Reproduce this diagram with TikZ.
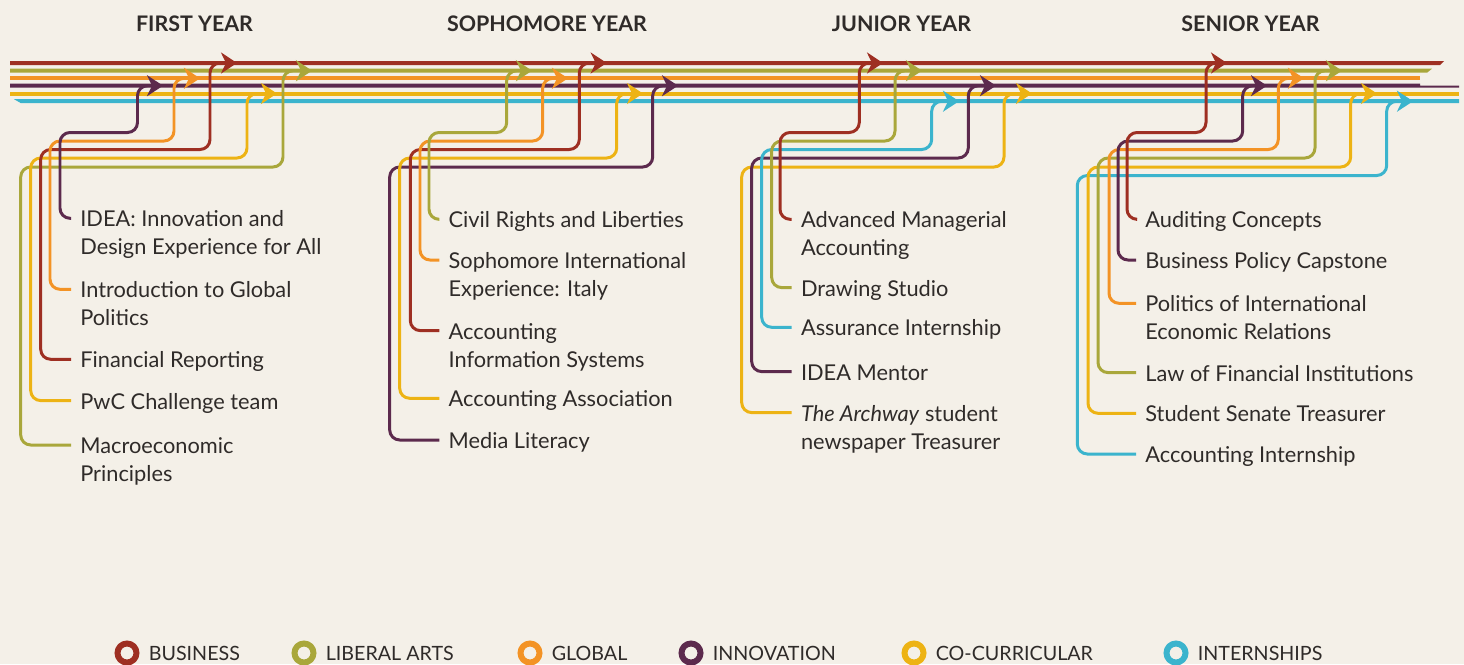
\documentclass[tikz,border=0pt]{standalone}
\usepackage{fontspec}
\setmainfont{Lato}
\usetikzlibrary{arrows.meta}
\usetikzlibrary{calc}
\usetikzlibrary{positioning}

\definecolor{paper}{HTML}{F4F0E8}
\definecolor{ink}{HTML}{2F2B29}
\definecolor{busc}{HTML}{9E2F22}
\definecolor{libc}{HTML}{A9A73B}
\definecolor{gloc}{HTML}{F39325}
\definecolor{innc}{HTML}{5C2A4D}
\definecolor{cocc}{HTML}{EDB314}
\definecolor{intc}{HTML}{3BB4CD}
\newcommand{\twolines}[2]{\begin{tabular}[t]{@{}l@{}}#1\\#2\end{tabular}}

\tikzset{
  course/.style={anchor=base west,inner sep=0pt,text=ink,font=\fontsize{12.4}{16}\selectfont},
  branch/.style={draw=#1,line width=1.7pt,rounded corners=0.2cm,
    -{Stealth[length=0.32cm,width=0.42cm,inset=0.1cm,fill=#1]}},
  yearhead/.style={text=ink,inner sep=0pt,font=\bfseries\fontsize{12.2}{14}\selectfont},
  legring/.style={circle,draw=#1,line width=3.4pt,minimum size=0.38cm,inner sep=0pt},
  legtext/.style={text=ink,inner sep=0pt,font=\fontsize{11.2}{13}\selectfont}
}

\begin{document}
\begin{tikzpicture}[x=0.02cm,y=-0.02cm]
        \fill[paper] (0,0) rectangle (1464,664);
        \useasboundingbox (0,0) rectangle (1464,664);
        % year headings
        \node[yearhead] (yr1) at (194.5,24) {FIRST YEAR};
        \node[yearhead] (yr2) at (547,24) {SOPHOMORE YEAR};
        \node[yearhead] (yr3) at (901.5,24) {JUNIOR YEAR};
        \node[yearhead] (yr4) at (1250.5,24) {SENIOR YEAR};
        % tracks
        \coordinate (bus) at (10,63);
        \coordinate (lib) at (10,70.7);
        \coordinate (glo) at (10,78.3);
        \coordinate (inn) at (10,85.7);
        \coordinate (coc) at (10,93.5);
        \coordinate (int) at (14,101.2);
        \fill[busc] (10,61)--(1444,61)--(1440,65)--(10,65)--cycle;
        \fill[libc] (10,68.7)--(1432,68.7)--(1427,72.7)--(10,72.7)--cycle;
        \fill[gloc] (10,76.3)--(1420,76.3)--(1420,80.3)--(10,80.3)--cycle;
        \fill[innc] (10,83.7)--(1420,83.7)--(1420,85.7)--(1459,85.7)--(1459,87.7)--(10,87.7)--cycle;
        \fill[cocc] (10,91.5)--(1459,91.5)--(1459,95.5)--(10,95.5)--cycle;
        \fill[intc] (14,99.2)--(1459,99.2)--(1459,103.2)--(21,103.2)--cycle;

        % first year
        \node[course] (idea) at (80,226.7) {\twolines{IDEA: Innovation and}{Design Experience for All}};
        \node[course] (igp) at (80,297.7) {\twolines{Introduction to Global}{Politics}};
        \node[course] (finrep) at (80,367.7) {Financial Reporting};
        \node[course] (pwc) at (80,409) {PwC Challenge team};
        \node[course] (macro) at (80,453.4) {\twolines{Macroeconomic}{Principles}};
        \draw[branch=libc] ($(macro.base west)+(-9,-8.4)$) -| (20.7,167) -| (283,0 |- lib) -- (312,0 |- lib);
        \draw[branch=cocc] ($(pwc.base west)+(-9,-8.4)$) -| (30.7,158) -| (247,0 |- coc) -- (277,0 |- coc);
        \draw[branch=busc] ($(finrep.base west)+(-9,-8.4)$) -| (40.7,149.5) -| (210,0 |- bus) -- (237,0 |- bus);
        \draw[branch=gloc] ($(igp.base west)+(-9,-8.4)$) -| (50,141) -| (174,0 |- glo) -- (200,0 |- glo);
        \draw[branch=innc] ($(idea.base west)+(-9,-8.4)$) -| (60,132.5) -| (137.5,0 |- inn) -- (163,0 |- inn);

        % sophomore year
        \node[course] (civil) at (448.3,227.7) {Civil Rights and Liberties};
        \node[course] (italy) at (448.3,268.4) {\twolines{Sophomore International}{Experience: Italy}};
        \node[course] (ais) at (448.3,339) {\twolines{Accounting}{Information Systems}};
        \node[course] (accas) at (448.3,406.7) {Accounting Association};
        \node[course] (media) at (448.3,448.4) {Media Literacy};
        \draw[branch=innc] ($(media.base west)+(-9,-8.4)$) -| (389.7,167) -| (652.7,0 |- inn) -- (678,0 |- inn);
        \draw[branch=cocc] ($(accas.base west)+(-9,-8.4)$) -| (399.7,158) -| (616.7,0 |- coc) -- (643,0 |- coc);
        \draw[branch=busc] ($(ais.base west)+(-9,-8.4)$) -| (410.3,149.5) -| (579.3,0 |- bus) -- (606.7,0 |- bus);
        \draw[branch=gloc] ($(italy.base west)+(-9,-8.4)$) -| (420,141) -| (542.7,0 |- glo) -- (568,0 |- glo);
        \draw[branch=libc] ($(civil.base west)+(-9,-8.4)$) -| (429,132.5) -| (506.7,0 |- lib) -- (532,0 |- lib);

        % junior year
        \node[course] (amacc) at (800.7,227.7) {\twolines{Advanced Managerial}{Accounting}};
        \node[course] (draw) at (800.7,296) {Drawing Studio};
        \node[course] (assur) at (800.7,335.7) {Assurance Internship};
        \node[course] (mentor) at (800.7,380) {IDEA Mentor};
        \node[course] (archway) at (800.7,421) {\twolines{\textit{The Archway} student}{newspaper Treasurer}};
        \draw[branch=cocc] ($(archway.base west)+(-9,-8.4)$) -| (741.7,167) -| (1004,0 |- coc) -- (1032,0 |- coc);
        \draw[branch=innc] ($(mentor.base west)+(-9,-8.4)$) -| (751.7,158) -| (968.3,0 |- inn) -- (996,0 |- inn);
        \draw[branch=intc] ($(assur.base west)+(-9,-8.4)$) -| (761.7,149.5) -| (931.7,0 |- int) -- (959,0 |- int);
        \draw[branch=libc] ($(draw.base west)+(-9,-8.4)$) -| (771.7,141) -| (895,0 |- lib) -- (922,0 |- lib);
        \draw[branch=busc] ($(amacc.base west)+(-9,-8.4)$) -| (780,132.5) -| (859.3,0 |- bus) -- (883,0 |- bus);

        % senior year
        \node[course] (audit) at (1145,227.7) {Auditing Concepts};
        \node[course] (capst) at (1145,268.4) {Business Policy Capstone};
        \node[course] (pier) at (1145,311.7) {\twolines{Politics of International}{Economic Relations}};
        \node[course] (lawfi) at (1145,381) {Law of Financial Institutions};
        \node[course] (senate) at (1145,421.7) {Student Senate Treasurer};
        \node[course] (accint) at (1145,462.4) {Accounting Internship};
        \draw[branch=intc] ($(accint.base west)+(-9,-8.4)$) -| (1077.3,175.5) -| (1386.7,0 |- int) -- (1413,0 |- int);
        \draw[branch=cocc] ($(senate.base west)+(-9,-8.4)$) -| (1088,167) -| (1350.7,0 |- coc) -- (1377,0 |- coc);
        \draw[branch=libc] ($(lawfi.base west)+(-9,-8.4)$) -| (1098,158) -| (1315,0 |- lib) -- (1342,0 |- lib);
        \draw[branch=gloc] ($(pier.base west)+(-9,-8.4)$) -| (1109,149.5) -| (1278.3,0 |- glo) -- (1304,0 |- glo);
        \draw[branch=innc] ($(capst.base west)+(-9,-8.4)$) -| (1118,141) -| (1242.7,0 |- inn) -- (1267,0 |- inn);
        \draw[branch=busc] ($(audit.base west)+(-9,-8.4)$) -| (1127,132.5) -| (1206,0 |- bus) -- (1227,0 |- bus);

        % legend
        \node[legring=busc] (lgbus) at (127,653) {};
        \node[legtext,right=0.18cm of lgbus] (lgbust) {BUSINESS};
        \node[legring=libc] (lglib) at (304,653) {};
        \node[legtext,right=0.18cm of lglib] (lglibt) {LIBERAL ARTS};
        \node[legring=gloc] (lgglo) at (530,653) {};
        \node[legtext,right=0.18cm of lgglo] (lgglot) {GLOBAL};
        \node[legring=innc] (lginn) at (691,653) {};
        \node[legtext,right=0.18cm of lginn] (lginnt) {INNOVATION};
        \node[legring=cocc] (lgcoc) at (914,653) {};
        \node[legtext,right=0.18cm of lgcoc] (lgcoct) {CO-CURRICULAR};
        \node[legring=intc] (lgint) at (1176,653) {};
        \node[legtext,right=0.18cm of lgint] (lgintt) {INTERNSHIPS};
\end{tikzpicture}
\end{document}
